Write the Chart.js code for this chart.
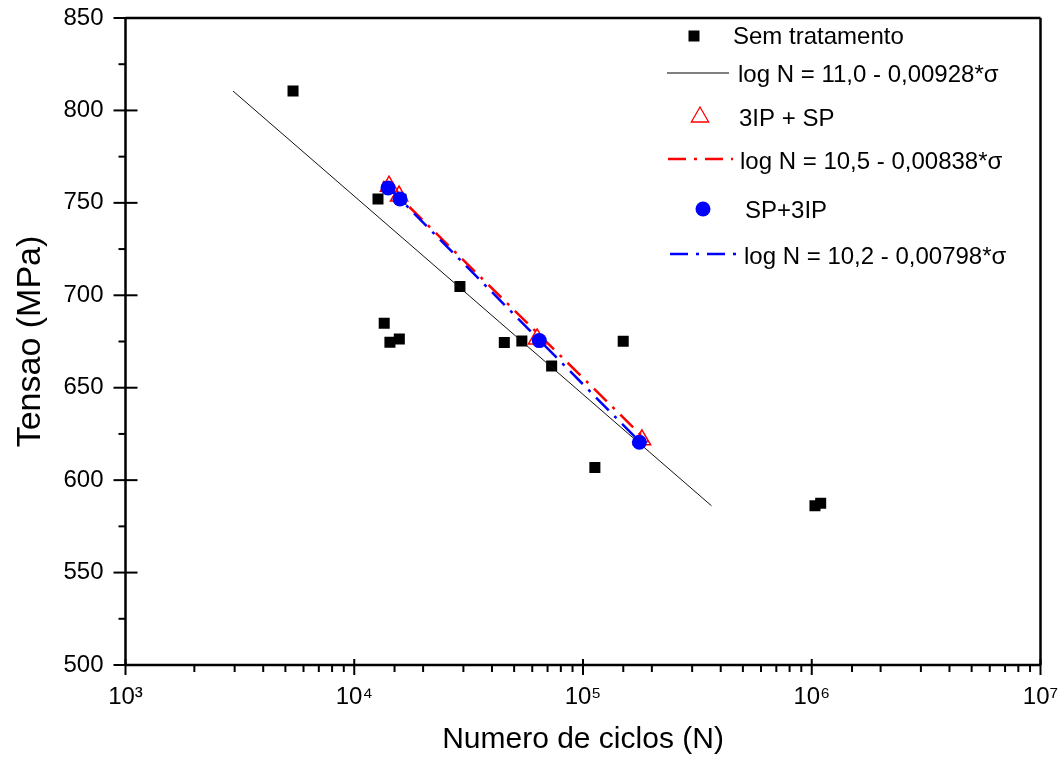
<!DOCTYPE html>
<html>
<head>
<meta charset="utf-8">
<script src="https://cdn.jsdelivr.net/npm/chart.js@4/dist/chart.umd.min.js"></script>
<style>
  html, body { margin: 0; padding: 0; background: #fff; }
  #wrap { width: 1059px; height: 758px; }
</style>
</head>
<body>
<div id="wrap"><canvas id="c" width="1059" height="758"></canvas></div>
<script>
// ---- Data ----
const semN = [5400, 12700, 16000, 28970, 13520, 14320, 15740, 45290, 54040, 72930, 149900, 112700, 1033000, 1094000];
const semS = [810.5, 752.1, 752.0, 704.8, 684.9, 674.6, 676.4, 674.4, 675.3, 661.8, 675.1, 606.8, 586.1, 587.5];

const ipspN = [14190, 15700, 63000, 181000];
const ipspS = [759.0, 753.7, 676.4, 621.8];

const spipN = [14050, 15850, 64400, 176400];
const spipS = [758.1, 752.1, 675.5, 620.5];

const fitSemN = [2951, 364700];
const fitSemS = [810.5, 586.1];
const fitIpspN = [13360, 192300];
const fitIpspS = [761.8, 620.7];
const fitSpipN = [14050, 179300];
const fitSpipS = [758.6, 620.1];

const seriesLabels = [
  'Sem tratamento',
  'log N = 11,0 - 0,00928*σ',
  '3IP + SP',
  'log N = 10,5 - 0,00838*σ',
  'SP+3IP',
  'log N = 10,2 - 0,00798*σ'
];

const xTickValues = [1e3, 1e4, 1e5, 1e6, 1e7];
const xTickLabels = ['10³', '10⁴', '10⁵', '10⁶', '10⁷'];
const yMinorValues = [525, 575, 625, 675, 725, 775, 825];
const xTitle = 'Numero de ciclos (N)';
const yTitle = 'Tensao (MPa)';

const pts = (xs, ys) => xs.map((x, i) => ({ x: x, y: ys[i] }));

const FONT = "'Liberation Sans', Arial, 'DejaVu Sans', sans-serif";
const DASH = [18, 8, 3, 8];

// ---- Plugin: frame, ticks, legend ----
const decor = {
  id: 'decor',
  afterDraw(chart) {
    const ctx = chart.ctx;
    const a = chart.chartArea;
    const xs = chart.scales.x, ys = chart.scales.y;
    ctx.save();
    ctx.strokeStyle = '#000';
    ctx.lineWidth = 2.5;
    ctx.beginPath();
    ctx.moveTo(a.left, a.top); ctx.lineTo(a.right, a.top);
    ctx.moveTo(a.right, a.top); ctx.lineTo(a.right, a.bottom);
    ctx.moveTo(a.left, a.bottom); ctx.lineTo(a.right, a.bottom);
    ctx.moveTo(a.left, a.top); ctx.lineTo(a.left, a.bottom);
    ctx.stroke();

    // y ticks
    ctx.lineWidth = 2;
    ys.ticks.forEach(t => {
      const y = ys.getPixelForValue(t.value);
      ctx.beginPath(); ctx.moveTo(a.left - 12, y); ctx.lineTo(a.left + 12, y); ctx.stroke();
    });
    yMinorValues.forEach(v => {
      const y = ys.getPixelForValue(v);
      ctx.beginPath(); ctx.moveTo(a.left - 7, y); ctx.lineTo(a.left, y); ctx.stroke();
    });
    // x ticks
    xs.ticks.forEach(t => {
      const x = xs.getPixelForValue(t.value);
      const major = xTickValues.indexOf(t.value) >= 0;
      ctx.beginPath();
      if (major) { ctx.moveTo(x, a.bottom - 6); ctx.lineTo(x, a.bottom + 10); }
      else { ctx.moveTo(x, a.bottom); ctx.lineTo(x, a.bottom + 7); }
      ctx.stroke();
    });

    // legend
    const items = [
      { y: 36, tx: 733, sym: 'rect' },
      { y: 73, tx: 738, sym: 'line', x0: 667, x1: 729, color: '#000', w: 1, dash: [] },
      { y: 115, tx: 739, sym: 'tri' },
      { y: 159, tx: 740, sym: 'line', x0: 668, x1: 733, color: '#ff0000', w: 2.5, dash: DASH },
      { y: 209, tx: 745, sym: 'circ' },
      { y: 254, tx: 744, sym: 'line', x0: 670, x1: 737, color: '#0000ff', w: 2.5, dash: DASH }
    ];
    const textY = [37, 75, 119, 162, 211, 257];
    ctx.font = '24px ' + FONT;
    ctx.textBaseline = 'middle';
    ctx.textAlign = 'left';
    items.forEach((it, i) => {
      if (it.sym === 'rect') {
        ctx.fillStyle = '#000';
        ctx.fillRect(694 - 5.5, it.y - 5.5, 11, 11);
      } else if (it.sym === 'tri') {
        const r = 10, cx = 700, cy = it.y + 2;
        ctx.strokeStyle = '#ff0000'; ctx.lineWidth = 1.3; ctx.setLineDash([]);
        ctx.beginPath();
        ctx.moveTo(cx, cy - r);
        ctx.lineTo(cx + r * 0.866, cy + r * 0.5);
        ctx.lineTo(cx - r * 0.866, cy + r * 0.5);
        ctx.closePath(); ctx.stroke();
      } else if (it.sym === 'circ') {
        ctx.fillStyle = '#0000ff';
        ctx.beginPath(); ctx.arc(703, it.y, 7.5, 0, Math.PI * 2); ctx.fill();
      } else {
        ctx.strokeStyle = it.color; ctx.lineWidth = it.w; ctx.setLineDash(it.dash);
        ctx.beginPath(); ctx.moveTo(it.x0, it.y); ctx.lineTo(it.x1, it.y); ctx.stroke();
        ctx.setLineDash([]);
      }
      ctx.fillStyle = '#000';
      ctx.fillText(seriesLabels[i], it.tx, textY[i]);
    });
    ctx.restore();
  }
};

new Chart(document.getElementById('c'), {
  type: 'scatter',
  data: {
    datasets: [
      { label: seriesLabels[0], data: pts(semN, semS), pointStyle: 'rect', pointRadius: 7.8,
        backgroundColor: '#000', borderColor: '#000', borderWidth: 0, order: 5 },
      { label: seriesLabels[1], data: pts(fitSemN, fitSemS), showLine: true, pointRadius: 0,
        borderColor: '#111', borderWidth: 1, order: 4 },
      { label: seriesLabels[2], data: pts(ipspN, ipspS), pointStyle: 'triangle', pointRadius: 10,
        backgroundColor: 'rgba(0,0,0,0)', borderColor: '#ff0000', borderWidth: 1.5, order: 3 },
      { label: seriesLabels[3], data: pts(fitIpspN, fitIpspS), showLine: true, pointRadius: 0,
        borderColor: '#ff0000', borderWidth: 2.5, borderDash: DASH, order: 2 },
      { label: seriesLabels[4], data: pts(spipN, spipS), pointStyle: 'circle', pointRadius: 7.5,
        backgroundColor: '#0000ff', borderColor: '#0000ff', borderWidth: 0, order: 0 },
      { label: seriesLabels[5], data: pts(fitSpipN, fitSpipS), showLine: true, pointRadius: 0,
        borderColor: '#0000ff', borderWidth: 2.5, borderDash: DASH, order: 1 }
    ]
  },
  options: {
    responsive: false,
    animation: false,
    devicePixelRatio: 1,
    layout: { padding: { left: 0, top: 18, right: 18.5, bottom: 0 } },
    plugins: { legend: { display: false }, tooltip: { enabled: false } },
    scales: {
      x: {
        type: 'logarithmic',
        min: 1e3, max: 1e7,
        grid: { display: false, drawTicks: false },
        border: { display: false },
        title: { display: true, text: xTitle, color: '#000',
                 font: { family: FONT, size: 30 }, padding: { top: 0, bottom: 0 } },
        ticks: {
          color: '#000', font: { family: FONT, size: 24 }, padding: 18,
          autoSkip: false, maxRotation: 0,
          callback: (v) => { const i = xTickValues.indexOf(v); return i >= 0 ? xTickLabels[i] : ''; }
        },
        afterFit: (s) => { s.height = 93; s.paddingLeft = 0; s.paddingRight = 0; }
      },
      y: {
        min: 500, max: 850,
        grid: { display: false, drawTicks: false },
        border: { display: false },
        title: { display: true, text: yTitle, color: '#000',
                 font: { family: FONT, size: 34 }, padding: { top: 10, bottom: 0 } },
        ticks: { color: '#000', font: { family: FONT, size: 24 }, padding: 22, stepSize: 50 },
        afterFit: (s) => { s.width = 125.5; s.paddingTop = 0; s.paddingBottom = 0; }
      }
    }
  },
  plugins: [decor]
});
</script>
</body>
</html>
